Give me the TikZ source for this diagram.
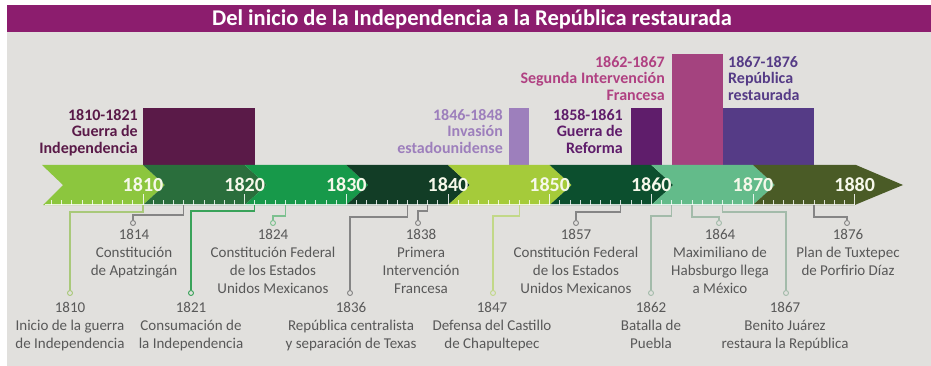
\documentclass[tikz,border=0pt]{standalone}
\usepackage{fontspec}
\setmainfont{Carlito}
\definecolor{bg}{HTML}{E1E0DD}
\definecolor{titlebar}{HTML}{8C1D6E}
\definecolor{sA}{HTML}{8CC63E}
\definecolor{sB}{HTML}{2A6E3C}
\definecolor{sC}{HTML}{17994A}
\definecolor{sD}{HTML}{123D26}
\definecolor{sE}{HTML}{A5CB3A}
\definecolor{sF}{HTML}{0C4F2E}
\definecolor{sG}{HTML}{63BB8A}
\definecolor{sH}{HTML}{4A5B26}
\definecolor{pA}{HTML}{5A1A48}
\definecolor{pB}{HTML}{9D7FBC}
\definecolor{pC}{HTML}{5F1D6B}
\definecolor{pD}{HTML}{A4437F}
\definecolor{pDt}{HTML}{B04182}
\definecolor{pE}{HTML}{553B86}
\definecolor{evgray}{HTML}{585858}
\definecolor{lnA}{HTML}{A9C97A}
\definecolor{lnB}{HTML}{858585}
\definecolor{lnC}{HTML}{3AA35A}
\definecolor{lnD}{HTML}{7CC08F}
\definecolor{lnE}{HTML}{C2D888}
\definecolor{lnF}{HTML}{A3BBAA}
\definecolor{yrw}{HTML}{F6F8EA}
\begin{document}
\begin{tikzpicture}[x=1pt,y=-1pt,
  evt/.style={font=\fontsize{15}{18}\selectfont, text=evgray, align=center, anchor=north, inner sep=0pt},
  perR/.style={font=\bfseries\fontsize{16}{16.5}\selectfont, align=right, anchor=north east, inner sep=0pt},
  perL/.style={font=\bfseries\fontsize{16}{16.5}\selectfont, align=left, anchor=north west, inner sep=0pt},
  conn/.style={line width=1.1pt},
  dot/.style={circle, draw, fill=bg, inner sep=0pt, minimum size=5pt, line width=0.9pt},
  yr/.style={font=\bfseries\fontsize{20}{20}\selectfont, text=yrw, inner sep=0pt}
]
\useasboundingbox (0,0) rectangle (931,366);
\fill[white] (0,0) rectangle (931,366);
\fill[bg] (7,5) rectangle (931,366);
% title bar
\fill[titlebar] (7,5) rectangle (931,32);
\node[font=\bfseries\fontsize{22.5}{24}\selectfont, text=white, inner sep=0pt] (title) at (472,19) {Del inicio de la Independencia a la República restaurada};

% period bars
\fill[pA] (143,108) rectangle (254.8,165);
\fill[pB] (509,108) rectangle (529.3,165);
\fill[pC] (631,108) rectangle (661.5,165);
\fill[pD] (671.7,54) rectangle (722.5,165);
\fill[pE] (722.5,108) rectangle (814,165);

\node[perR, text=pA] (pl1) at (138,109) {1810-1821\\Guerra de\\Independencia};
\node[perR, text=pB] (pl2) at (503,109) {1846-1848\\Invasión\\estadounidense};
\node[perR, text=pC] (pl3) at (623,109) {1858-1861\\Guerra de\\Reforma};
\node[perR, text=pDt] (pl4) at (665,56) {1862-1867\\Segunda Intervención\\Francesa};
\node[perL, text=pE] (pl5) at (728,56) {1867-1876\\República\\restaurada};

% band segments
\fill[sA] (42,165) -- (63,185) -- (43,205) -- (143,205) -- (165,185) -- (143,165) -- cycle;
\fill[sB] (143,165) -- (165,185) -- (143,205) -- (244.7,205) -- (266.7,185) -- (244.7,165) -- cycle;
\fill[sC] (244.7,165) -- (266.7,185) -- (244.7,205) -- (346.3,205) -- (368.3,185) -- (346.3,165) -- cycle;
\fill[sD] (346.3,165) -- (368.3,185) -- (346.3,205) -- (448,205) -- (470,185) -- (448,165) -- cycle;
\fill[sE] (448,165) -- (470,185) -- (448,205) -- (549.7,205) -- (571.7,185) -- (549.7,165) -- cycle;
\fill[sF] (549.7,165) -- (571.7,185) -- (549.7,205) -- (651.3,205) -- (673.3,185) -- (651.3,165) -- cycle;
\fill[sG] (651.3,165) -- (673.3,185) -- (651.3,205) -- (753,205) -- (775,185) -- (753,165) -- cycle;
\fill[sH] (753,165) -- (775,185) -- (753,205) -- (854.7,205) -- (903,185) -- (856,165) -- cycle;

% ticks
\draw[white, opacity=0.8, line width=0.8pt] (45,204.3) -- (854.7,204.3);
\foreach \i in {1801,...,1880} {
  \pgfmathsetmacro{\tx}{143+(\i-1810)*10.167}
  \pgfmathtruncatemacro{\m}{mod(\i,10)}
  \ifnum\m=0
    \draw[white, opacity=0.85, line width=0.9pt] (\tx,194) -- (\tx,204.5);
  \else
    \draw[white, opacity=0.8, line width=0.8pt] (\tx,200.5) -- (\tx,204.5);
  \fi
}

% decade labels
\foreach \d/\x in {1810/143,1820/244.7,1830/346.3,1840/448,1850/549.7,1860/651.3,1870/753,1880/854.7} {
  \node[yr] (y\d) at (\x,185) {\d};
}

% tick anchor coordinates
\coordinate (t1810) at (143,205);
\coordinate (t1814) at (183.7,205);
\coordinate (t1821) at (254.8,205);
\coordinate (t1824) at (285.3,205);
\coordinate (t1836) at (407.3,205);
\coordinate (t1838) at (427.7,205);
\coordinate (t1847) at (519.2,205);
\coordinate (t1857) at (620.8,205);
\coordinate (t1862) at (671.7,205);
\coordinate (t1864) at (692,205);
\coordinate (t1867) at (722.5,205);
\coordinate (t1876) at (814,205);

% circles
\node[dot, draw=lnA] (c1810) at (70,293) {};
\node[dot, draw=lnB] (c1814) at (133,223) {};
\node[dot, draw=lnC] (c1821) at (191,293) {};
\node[dot, draw=lnD] (c1824) at (273,223) {};
\node[dot, draw=lnB] (c1836) at (350,293) {};
\node[dot, draw=lnB] (c1838) at (418,223) {};
\node[dot, draw=lnE] (c1847) at (493,293) {};
\node[dot, draw=lnB] (c1857) at (576,223) {};
\node[dot, draw=lnF] (c1862) at (651,293) {};
\node[dot, draw=lnF] (c1864) at (719,223) {};
\node[dot, draw=lnF] (c1867) at (786,293) {};
\node[dot, draw=lnB] (c1876) at (847,223) {};

% connectors
\draw[conn, lnA] (t1810) -- ++(0,7) -| (c1810);
\draw[conn, lnB] (t1814) -- ++(0,10) -| (c1814);
\draw[conn, lnC] (t1821) -- ++(0,6) -| (c1821);
\draw[conn, lnD] (t1824) -- ++(0,11) -| (c1824);
\draw[conn, lnB] (t1836) -- ++(0,12) -| (c1836);
\draw[conn, lnB] (t1838) -- ++(0,6) -| (c1838);
\draw[conn, lnE] (t1847) -- ++(0,11) -| (c1847);
\draw[conn, lnB] (t1857) -- ++(0,7) -| (c1857);
\draw[conn, lnF] (t1862) -- ++(0,11) -| (c1862);
\draw[conn, lnF] (t1864) -- ++(0,12) -| (c1864);
\draw[conn, lnF] (t1867) -- ++(0,7) -| (c1867);
\draw[conn, lnB] (t1876) -- ++(0,12) -| (c1876);

% event labels
\node[evt] (l1810) at (70,302) {1810\\Inicio de la guerra\\de Independencia};
\node[evt] (l1814) at (134,229) {1814\\Constitución\\de Apatzingán};
\node[evt] (l1821) at (191,302) {1821\\Consumación de\\la Independencia};
\node[evt] (l1824) at (273,229) {1824\\Constitución Federal\\de los Estados\\Unidos Mexicanos};
\node[evt] (l1836) at (351,302) {1836\\República centralista\\y separación de Texas};
\node[evt] (l1838) at (421,229) {1838\\Primera\\Intervención\\Francesa};
\node[evt] (l1847) at (492,302) {1847\\Defensa del Castillo\\de Chapultepec};
\node[evt] (l1857) at (576,229) {1857\\Constitución Federal\\de los Estados\\Unidos Mexicanos};
\node[evt] (l1862) at (651,302) {1862\\Batalla de\\Puebla};
\node[evt] (l1864) at (720,229) {1864\\Maximiliano de\\Habsburgo llega\\a México};
\node[evt] (l1867) at (785,302) {1867\\Benito Juárez\\restaura la República};
\node[evt] (l1876) at (848,229) {1876\\Plan de Tuxtepec\\de Porfirio Díaz};
\end{tikzpicture}
\end{document}
